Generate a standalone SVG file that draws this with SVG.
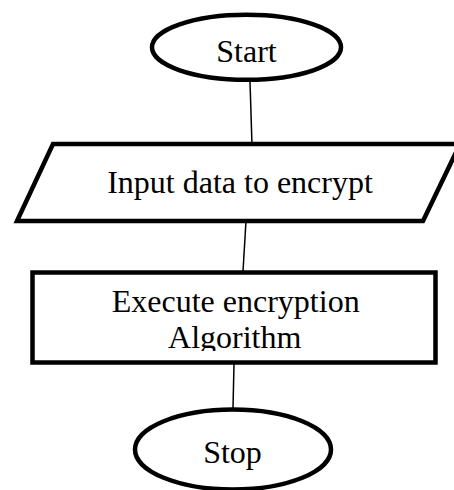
<svg xmlns="http://www.w3.org/2000/svg" width="454" height="490" viewBox="0 0 454 490">
  <style>
    .shape { fill: #ffffff; stroke: #000000; stroke-width: 4.5; }
    .conn { stroke: #000000; stroke-width: 1.5; fill: none; }
    .label { font-family: "Liberation Serif", "Times New Roman", serif; font-size: 32px; fill: #000000; text-anchor: middle; }
  </style>
  <defs>
    <clipPath id="procClip">
      <rect x="35" y="275" width="398" height="76"/>
    </clipPath>
  </defs>
  <rect x="0" y="0" width="454" height="490" fill="#ffffff"/>
  <g id="connectors">
    <line class="conn" x1="250" y1="82" x2="252" y2="145"/>
    <line class="conn" x1="246" y1="221" x2="243" y2="271"/>
    <line class="conn" x1="234" y1="364" x2="233" y2="408"/>
  </g>
  <g id="start">
    <ellipse class="shape" cx="246.5" cy="47.3" rx="94.5" ry="32.5"/>
    <text class="label" x="246.5" y="62">Start</text>
  </g>
  <g id="input">
    <polygon class="shape" stroke-width="5" points="53,144 460,144 423,221 17,221"/>
    <text class="label" x="240" y="193">Input data to encrypt</text>
  </g>
  <g id="process">
    <rect class="shape" stroke-width="5" x="32.5" y="272.5" width="403" height="90"/>
    <g clip-path="url(#procClip)">
      <text class="label" x="235.7" y="311.7">Execute encryption</text>
      <text class="label" x="234.7" y="348">Algorithm</text>
    </g>
  </g>
  <g id="stop">
    <ellipse class="shape" cx="233" cy="449.5" rx="98" ry="40"/>
    <text class="label" x="232.5" y="463">Stop</text>
  </g>
</svg>
